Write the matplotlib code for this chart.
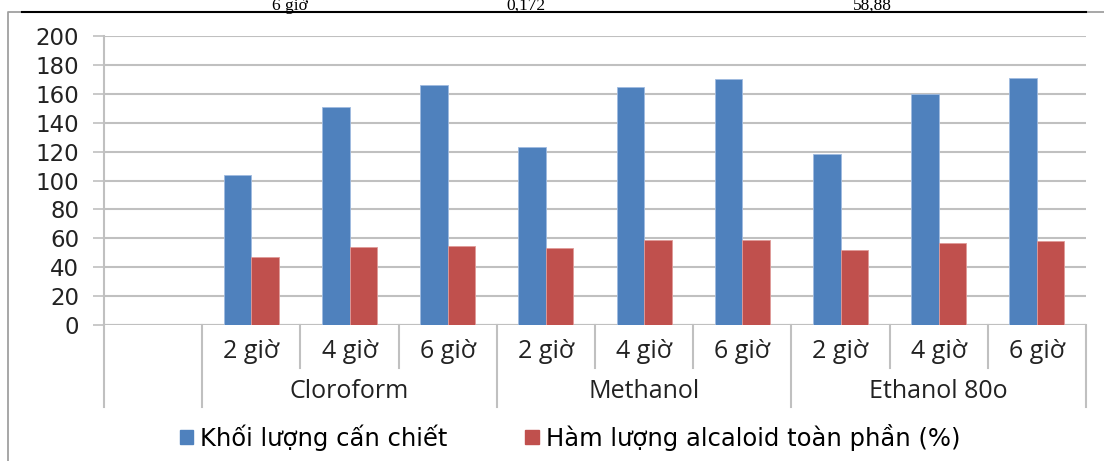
import matplotlib
matplotlib.use('Agg')
import matplotlib.pyplot as plt
import matplotlib.patches as mpatches
import numpy as np

# extraction data: solvent x time
solvents = ['Cloroform', 'Methanol', 'Ethanol 80o']
times = ['2 giờ', '4 giờ', '6 giờ']
khoi_luong = [104, 151, 166, 123, 165, 170, 118, 160, 171]
ham_luong = [47, 54, 55, 53, 59, 59, 52, 57, 58]

# last row of the table printed above the chart
table_row = ['6 giờ', '0,172', '58,88']

blue = '#4f81bd'
red = '#c0504d'
grid_c = '#c0c0c0'


def main():
    fig = plt.figure(figsize=(11.04, 4.61), dpi=100)
    W, H = 1104, 461

    # table remnant at the top of the page
    for txt, xp in zip(table_row, [290, 526, 872]):
        fig.text(xp / W, 1 - 10 / H, txt, family='Liberation Serif', fontsize=12.5,
                 ha='center', va='baseline', color='black')
    fig.add_artist(plt.Line2D([22 / W, 1086 / W], [1 - 12 / H, 1 - 12 / H],
                              color='black', lw=1.5, transform=fig.transFigure))
    # chart border
    fig.add_artist(plt.Line2D([8 / W, 8 / W, 1.01], [-0.01, 1 - 12.5 / H, 1 - 12.5 / H],
                              color='#a0a0a0', lw=1.3, transform=fig.transFigure, zorder=0))

    ax = fig.add_axes([104 / W, 1 - 325 / H, (1086 - 104) / W, (325 - 36) / H])

    n = len(khoi_luong)
    x = np.arange(1, n + 1)   # slot 0 stays empty
    w = 0.28
    ax.bar(x - w / 2, khoi_luong, w, color=blue, edgecolor='#9fbbe0', linewidth=0.6, zorder=3)
    ax.bar(x + w / 2, ham_luong, w, color=red, edgecolor='#e09a98', linewidth=0.6, zorder=3)

    ax.set_xlim(-0.5, n + 0.5)
    ax.set_ylim(0, 200)
    ax.set_yticks(np.arange(0, 201, 20))
    ax.tick_params(axis='y', length=8, color=grid_c, width=1.2, pad=10,
                   labelsize=16.5, labelcolor='#222222')
    for lab in ax.get_yticklabels():
        lab.set_family('DejaVu Sans')
    ax.set_xticks([])
    ax.yaxis.grid(True, color=grid_c, lw=1.5, zorder=0)
    for s in ['top', 'right', 'bottom']:
        ax.spines[s].set_visible(False)
    ax.spines['left'].set_color(grid_c)
    ax.spines['left'].set_linewidth(1.5)
    ax.axhline(0, color=grid_c, lw=1.5, zorder=2)

    # category table below the axis
    trans = ax.get_xaxis_transform()
    y_row = (325 - 368) / 289
    y_full = (325 - 407) / 289
    for k in range(0, n + 2):
        xb = k - 0.5
        low = y_full if k in (0, 1, 4, 7, 10) else y_row
        ax.plot([xb, xb], [0, low], color=grid_c, lw=1.5, transform=trans, clip_on=False)
    for i, xi in enumerate(x):
        ax.text(xi, (325 - 351) / 289, times[i % 3], transform=trans, ha='center', va='center',
                family='Open Sans', fontsize=18, color='#222222')
    for g, name in enumerate(solvents):
        ax.text(g * 3 + 2, (325 - 391) / 289, name, transform=trans, ha='center', va='center',
                family='Open Sans', fontsize=18, color='#222222')

    handles = [mpatches.Patch(color=blue, label='Khối lượng cấn chiết'),
               mpatches.Patch(color=red, label='Hàm lượng alcaloid toàn phần (%)')]
    fig.legend(handles=handles, loc='center', bbox_to_anchor=(570 / W, 1 - 437 / H), ncol=2,
               frameon=False, handlelength=0.55, handleheight=0.55, handletextpad=0.3,
               columnspacing=3.2, prop={'family': 'DejaVu Sans', 'size': 17.5})

    fig.savefig('out.png', dpi=100)


if __name__ == '__main__':
    main()
